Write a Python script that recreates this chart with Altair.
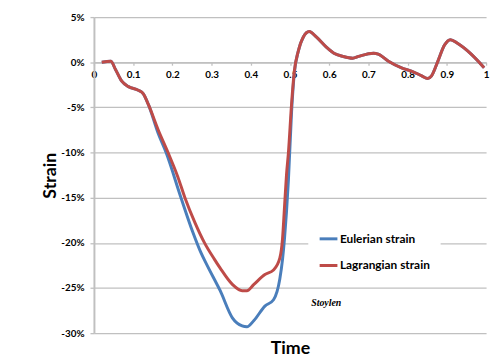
import altair as alt
import pandas as pd

# ---- data ----
time_eulerian = [0.020, 0.043, 0.055, 0.071, 0.088, 0.113, 0.126, 0.139, 0.164, 0.184,
                 0.222, 0.252, 0.272, 0.290, 0.322, 0.353, 0.378, 0.390, 0.408, 0.436,
                 0.458, 0.474, 0.481, 0.486, 0.491, 0.496, 0.504, 0.511, 0.521, 0.534,
                 0.549, 0.567, 0.592, 0.612, 0.635, 0.660, 0.675, 0.713, 0.725, 0.751,
                 0.786, 0.811, 0.836, 0.851, 0.861, 0.877, 0.894, 0.909, 0.927, 0.962,
                 0.995]
eulerian = [0, 0.1, -0.8, -2.1, -2.7, -3.1, -3.5, -4.7, -7.9, -10.0,
            -15.0, -18.8, -21.0, -22.6, -25.3, -28.3, -29.2, -29.3, -28.6, -27.0,
            -26.3, -24.0, -21.8, -19.5, -16.6, -13.0, -5.5, -1.2, 1.2, 2.8,
            3.4, 2.8, 1.7, 1.0, 0.65, 0.45, 0.65, 1.0, 0.9, 0.1,
            -0.65, -1.0, -1.5, -1.8, -1.5, 0.1, 1.9, 2.5, 2.1, 0.9,
            -0.6]

time_lagrangian = [0.020, 0.043, 0.055, 0.071, 0.088, 0.113, 0.126, 0.139, 0.164, 0.189,
                   0.214, 0.232, 0.257, 0.282, 0.307, 0.322, 0.353, 0.378, 0.390, 0.408,
                   0.436, 0.458, 0.474, 0.481, 0.486, 0.491, 0.496, 0.504, 0.511, 0.521,
                   0.534, 0.549, 0.567, 0.592, 0.612, 0.635, 0.660, 0.675, 0.713, 0.725,
                   0.751, 0.786, 0.811, 0.836, 0.851, 0.861, 0.877, 0.894, 0.909, 0.927,
                   0.962, 0.995]
lagrangian = [0, 0.1, -0.8, -2.1, -2.7, -3.1, -3.5, -4.7, -7.5, -10.0,
              -12.7, -15.0, -17.7, -20.0, -21.8, -22.8, -24.6, -25.3, -25.3, -24.6,
              -23.5, -23.0, -21.7, -19.5, -16.0, -12.5, -10.0, -4.6, -1.0, 1.2,
              2.8, 3.4, 2.8, 1.7, 1.0, 0.65, 0.45, 0.65, 1.0, 0.9,
              0.1, -0.65, -1.0, -1.5, -1.8, -1.5, 0.1, 1.9, 2.5, 2.1,
              0.9, -0.6]

series_names = ["Eulerian strain", "Lagrangian strain"]
series_colors = ["#4a7ebb", "#be4b48"]

x_ticks = [0, 0.1, 0.2, 0.3, 0.4, 0.5, 0.6, 0.7, 0.8, 0.9, 1]
y_ticks = [5, 0, -5, -10, -15, -20, -25, -30]

note_text = ["Stoylen"]
note_time = [0.554]
note_strain = [-27.0]

# ---- tables ----
df = pd.DataFrame({
    "time": time_eulerian + time_lagrangian,
    "strain": eulerian + lagrangian,
    "series": [series_names[0]] * len(time_eulerian)
    + [series_names[1]] * len(time_lagrangian),
})
df_note = pd.DataFrame({"time": note_time, "strain": note_strain, "label": note_text})

FONT = "Lato"
GRID = "#c0c0c0"

x_axis = alt.Axis(
    values=x_ticks,
    tickCount=11,
    labelExpr="format(datum.value, '~g')",
    offset=-274.3,
    grid=False,
    domainColor=GRID,
    domainWidth=1.3,
    tickColor=GRID,
    tickWidth=1.3,
    tickSize=3,
    labelPadding=4,
    labelFlush=False,
    labelOverlap=False,
    labelFont=FONT,
    labelFontSize=10,
    labelFontWeight="bold",
    labelColor="black",
    title="Time",
    titleFont=FONT,
    titleFontSize=18,
    titleFontWeight="bold",
    titleColor="black",
    titleBaseline="alphabetic",
    titleY=295,
)

y_axis = alt.Axis(
    values=y_ticks,
    labelExpr="datum.value + '%'",
    labelOverlap=False,
    grid=True,
    gridColor=GRID,
    gridWidth=1.3,
    domainColor=GRID,
    domainWidth=2,
    tickColor=GRID,
    tickWidth=1.3,
    tickSize=4,
    labelPadding=6,
    labelFont=FONT,
    labelFontSize=10,
    labelFontWeight="bold",
    labelColor="black",
    title="Strain",
    titleFont=FONT,
    titleFontSize=18,
    titleFontWeight="bold",
    titleColor="black",
    titleBaseline="alphabetic",
    titleAlign="center",
    titleX=-39,
    titleY=160,
)

x_scale = alt.Scale(domain=[0, 1], nice=False, zero=False)
y_scale = alt.Scale(domain=[-30, 5], nice=False, zero=False)

lines = alt.Chart(df).mark_line(interpolate="monotone", strokeWidth=3).encode(
    x=alt.X("time:Q", scale=x_scale, axis=x_axis),
    y=alt.Y("strain:Q", scale=y_scale, axis=y_axis),
    color=alt.Color(
        "series:N",
        scale=alt.Scale(domain=series_names, range=series_colors),
        legend=alt.Legend(
            title=None,
            orient="none",
            legendX=217,
            legendY=204,
            fillColor="white",
            padding=10,
            symbolType="stroke",
            symbolStrokeWidth=3,
            symbolSize=324,
            labelOffset=1,
            rowPadding=10,
            labelFont=FONT,
            labelFontSize=12,
            labelFontWeight="bold",
            labelColor="black",
        ),
    ),
    order=alt.Order("series:N"),
)

note = alt.Chart(df_note).mark_text(
    align="left",
    baseline="alphabetic",
    font="Liberation Serif",
    fontStyle="italic",
    fontWeight="bold",
    fontSize=10,
    color="black",
).encode(
    x=alt.X("time:Q", scale=x_scale, axis=x_axis),
    y=alt.Y("strain:Q", scale=y_scale, axis=y_axis),
    text="label:N",
)

chart = alt.layer(lines, note).properties(
    width=397,
    height=320,
    autosize=alt.AutoSizeParams(type="none"),
    padding={"left": 87, "top": 7, "right": 6, "bottom": 28},
    background="white",
).configure_view(stroke=None)

chart.save("out.html", embed_options={"renderer": "svg", "actions": False})
